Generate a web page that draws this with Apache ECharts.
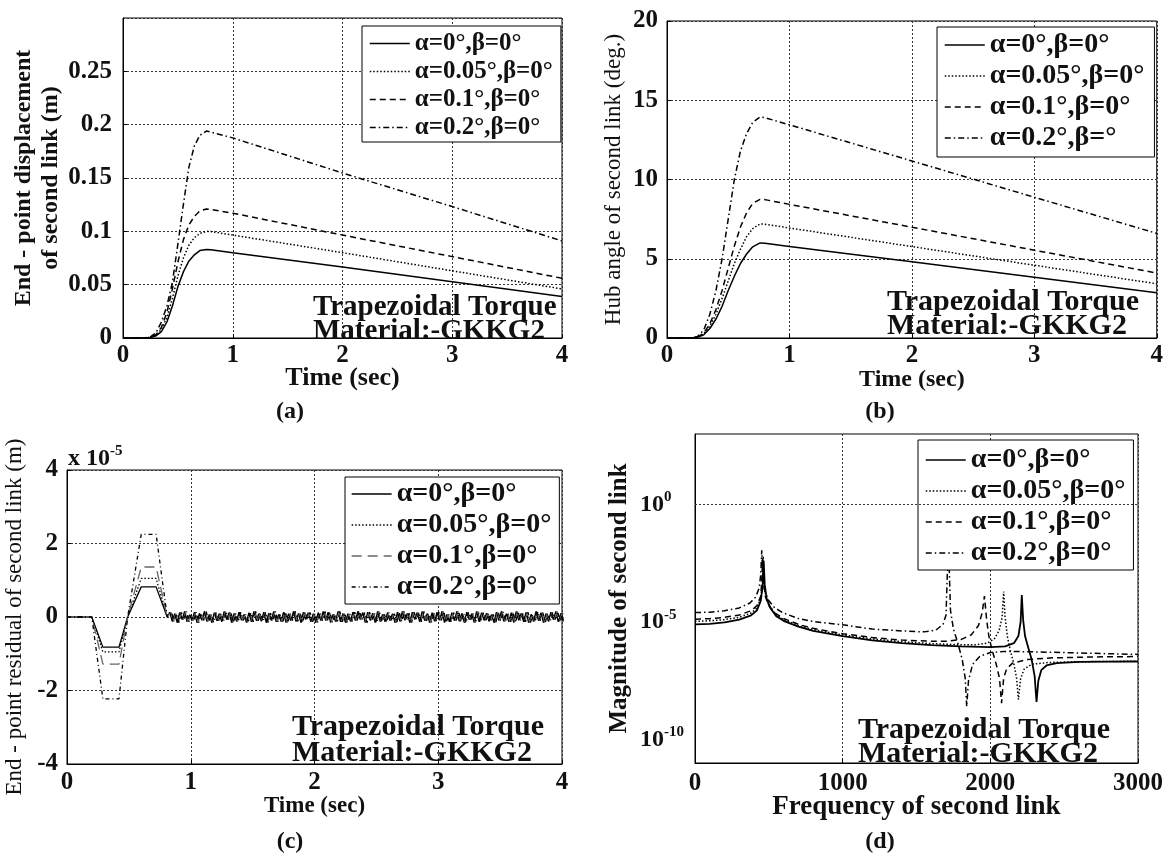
<!DOCTYPE html>
<html><head><meta charset="utf-8">
<script src="https://cdn.jsdelivr.net/npm/echarts@6/dist/echarts.min.js"></script>
<style>html,body{margin:0;padding:0;background:#fff}#c{width:1166px;height:854px}</style>
</head><body><div id="c"></div>
<script>
// ---------- DATA ----------
const names = ['α=0°,β=0°', 'α=0.05°,β=0°', 'α=0.1°,β=0°', 'α=0.2°,β=0°'];
const namesB = ['α=0°,β=0°', 'α=0.05°,β=0°', 'α=0.1°,β=0°', 'α=0.2°,β=°'];

// (a) end-point displacement (m)
const tA = [0,0.2,0.25,0.3,0.35,0.4,0.45,0.5,0.55,0.6,0.65,0.7,0.76,0.8,1,2,3,4];
const a0   = [0,0,0.0005,0.002,0.006,0.015,0.03,0.048,0.062,0.072,0.078,0.082,0.083,0.0828,0.080,0.0665,0.0528,0.039];
const a005 = [0,0,0.0006,0.0025,0.008,0.019,0.037,0.058,0.075,0.087,0.094,0.098,0.100,0.0998,0.0965,0.080,0.063,0.046];
const a01  = [0,0,0.0008,0.003,0.01,0.024,0.046,0.071,0.092,0.106,0.114,0.119,0.121,0.1205,0.117,0.0965,0.0763,0.056];
const a02  = [0,0,0.001,0.005,0.015,0.03,0.052,0.088,0.125,0.16,0.18,0.19,0.194,0.193,0.1876,0.1547,0.1232,0.091];

// (b) hub angle (deg)
const b0   = [0,0,0.05,0.2,0.6,1.2,2.0,3.0,3.9,4.7,5.3,5.75,6.0,5.98,5.78,4.81,3.83,2.85];
const b005 = [0,0,0.06,0.25,0.75,1.5,2.5,3.6,4.7,5.6,6.4,6.9,7.2,7.18,6.94,5.77,4.59,3.42];
const b01  = [0,0,0.07,0.3,0.9,1.8,3.0,4.4,5.8,7.0,7.9,8.5,8.75,8.73,8.43,6.99,5.54,4.1];
const b02  = [0,0,0.1,0.5,1.5,3.0,5.0,7.5,10.0,11.8,12.9,13.6,13.95,13.9,13.45,11.17,8.88,6.6];

// (c) end-point residual (x1e-5 m)
const tC   = [0,0.2,0.29,0.42,0.49,0.6,0.72,0.81];
const c0   = [0,0,-0.82,-0.82,0,0.82,0.82,0];
const c005 = [0,0,-0.95,-0.95,0,1.05,1.05,0];
const c01  = [0,0,-1.28,-1.28,0,1.36,1.36,0];
const c02  = [0,0,-2.23,-2.23,0,2.25,2.25,0];
const cTailStart = 0.83, cTailStep = 0.02;
const cTail = [
 0.13,-0.12,0.09,-0.15,0.12,-0.07,0.15,-0.13,0.06,-0.1,
 0.13,-0.15,0.1,-0.09,0.15,-0.12,0.07,-0.15,0.12,-0.1,
 0.09,-0.13,0.15,-0.07,0.12,-0.15,0.1,-0.12,0.13,-0.09,
 0.07,-0.15,0.12,-0.13,0.15,-0.1,0.09,-0.12,0.13,-0.15,
 0.1,-0.09,0.15,-0.13,0.07,-0.12,0.13,-0.15,0.09,-0.1,
 0.15,-0.12,0.1,-0.15,0.13,-0.07,0.12,-0.13,0.09,-0.15,
 0.12,-0.1,0.15,-0.09,0.13,-0.15,0.07,-0.12,0.15,-0.13,
 0.1,-0.15,0.09,-0.12,0.13,-0.1,0.15,-0.07,0.12,-0.15,
 0.13,-0.09,0.1,-0.15,0.15,-0.12,0.07,-0.13,0.12,-0.1,
 0.09,-0.15,0.13,-0.12,0.15,-0.09,0.1,-0.15,0.13,-0.07,
 0.12,-0.13,0.15,-0.1,0.09,-0.15,0.12,-0.12,0.13,-0.09,
 0.15,-0.15,0.07,-0.13,0.12,-0.1,0.15,-0.12,0.1,-0.15,
 0.13,-0.07,0.09,-0.15,0.15,-0.13,0.12,-0.09,0.1,-0.12,
 0.07,-0.15,0.13,-0.1,0.15,-0.12,0.09,-0.13,0.12,-0.15,
 0.15,-0.09,0.1,-0.13,0.13,-0.15,0.07,-0.12,0.15,-0.1,
 0.12,-0.15,0.09,-0.12,0.13,-0.07,0.15,-0.13,0.1,-0.12
];
const cTailPhase = [0, 0.005, 0.01, 0.015];   // sampling offsets of the four traces

// (d) magnitude spectrum: frequency and log10(magnitude)
const fD0 = [0,100,200,300,380,420,445,458,465,472,485,510,550,600,700,800,1000,1200,1400,1600,1800,2000,2100,2160,2190,2205,2213,2222,2235,2255,2280,2300,2313,2325,2345,2380,2450,2600,2800,3000];
const eD0 = [-5.1,-5.08,-5.02,-4.9,-4.72,-4.5,-4.1,-3.5,-2.4,-3.4,-4.0,-4.4,-4.75,-4.95,-5.2,-5.38,-5.6,-5.78,-5.9,-5.98,-6.04,-6.07,-6.04,-5.9,-5.6,-5.0,-3.85,-4.9,-5.6,-6.05,-6.6,-7.3,-8.4,-7.5,-7.05,-6.85,-6.75,-6.7,-6.69,-6.68];
const fD005 = [0,100,200,300,380,420,445,456,462,468,480,505,550,600,700,800,1000,1200,1400,1600,1800,1900,1980,2030,2060,2080,2090,2100,2115,2135,2160,2178,2190,2205,2230,2280,2400,2600,2800,3000];
const eD005 = [-4.97,-4.95,-4.9,-4.8,-4.62,-4.4,-4.0,-3.4,-2.2,-3.3,-3.95,-4.35,-4.7,-4.9,-5.15,-5.32,-5.55,-5.72,-5.84,-5.92,-5.97,-5.97,-5.9,-5.7,-5.35,-4.8,-3.7,-4.8,-5.6,-6.2,-6.8,-7.4,-8.3,-7.4,-7.0,-6.8,-6.72,-6.69,-6.68,-6.67];
const fD01 = [0,100,200,300,380,420,445,452,458,464,476,500,550,600,700,800,1000,1200,1400,1600,1700,1800,1870,1920,1945,1960,1975,1990,2010,2040,2062,2076,2090,2110,2150,2250,2400,2600,2800,3000];
const eD01 = [-4.88,-4.86,-4.8,-4.7,-4.52,-4.3,-3.9,-3.3,-2.3,-3.2,-3.9,-4.3,-4.65,-4.85,-5.1,-5.27,-5.5,-5.66,-5.77,-5.82,-5.82,-5.75,-5.55,-5.15,-4.6,-3.9,-4.9,-5.6,-6.15,-6.8,-7.4,-8.45,-7.4,-7.0,-6.75,-6.6,-6.53,-6.5,-6.48,-6.47];
const fD02 = [0,100,200,300,370,410,435,445,452,459,470,495,540,600,700,800,1000,1200,1400,1550,1630,1680,1700,1716,1730,1750,1780,1810,1830,1840,1852,1880,1930,2000,2100,2300,2500,2800,3000];
const eD02 = [-4.6,-4.58,-4.52,-4.4,-4.2,-3.95,-3.55,-3.0,-1.95,-3.0,-3.6,-4.05,-4.4,-4.62,-4.85,-4.98,-5.12,-5.3,-5.38,-5.42,-5.35,-5.1,-4.7,-1.5,-4.5,-5.3,-5.9,-6.6,-7.4,-8.6,-7.5,-6.8,-6.45,-6.3,-6.25,-6.27,-6.3,-6.35,-6.38];

const yLabelExpD = [0, -5, -10];

// ---------- STYLE ----------
const FONT = "'Liberation Serif','Times New Roman',serif";
const TXT = '#111';
const dashes = ['solid', [1.5, 2], [6, 4], [6, 3, 1.5, 3]];
const dashesC = ['solid', [1.5, 2], [10, 6], [4, 3, 1, 3]];
const colorsC = ['#000', '#000', '#666', '#000'];

const zip = (xs, ys) => xs.map((x, i) => [x, ys[i]]);

function xAx(gi, max, interval, name, gap, fs, margin) {
  return {
    type: 'value', gridIndex: gi, min: 0, max: max, interval: interval,
    axisLine: {show: true, onZero: false, lineStyle: {color: '#000', width: 1}},
    axisTick: {show: true, inside: true, length: 4, lineStyle: {color: '#000'}},
    splitLine: {show: true, lineStyle: {type: [2, 2], color: '#333', width: 1}},
    axisLabel: {fontFamily: FONT, fontWeight: 'bold', fontSize: 25, color: TXT, margin: margin, formatter: v => String(v)},
    name: name, nameLocation: 'middle', nameGap: gap, nameMoveOverlap: false,
    nameTextStyle: {fontFamily: FONT, fontWeight: 'bold', fontSize: fs, color: TXT}
  };
}
function yAx(gi, min, max, interval, name, gap, fs, fw, extraLabel) {
  return {
    type: 'value', gridIndex: gi, min: min, max: max, interval: interval,
    axisLine: {show: true, onZero: false, lineStyle: {color: '#000', width: 1}},
    axisTick: {show: true, inside: true, length: 4, lineStyle: {color: '#000'}},
    splitLine: {show: true, lineStyle: {type: [2, 2], color: '#333', width: 1}},
    axisLabel: Object.assign({fontFamily: FONT, fontWeight: 'bold', fontSize: 25, color: TXT, margin: 9}, extraLabel || {}),
    name: name, nameLocation: 'middle', nameRotate: 90, nameGap: gap,
    nameTextStyle: {fontFamily: FONT, fontWeight: fw, fontSize: fs, color: TXT, lineHeight: 27}
  };
}

function lineSeries(name, gi, data, dash, color, width) {
  return {
    type: 'line', name: name, xAxisIndex: gi, yAxisIndex: gi, data: data,
    symbol: 'none', showSymbol: false, smooth: false, silent: true,
    itemStyle: {color: color || '#000'},
    lineStyle: {color: color || '#000', width: width || 1.5, type: dash}
  };
}

function legend(left, top, nms, styles, colors, w, fs, gap, pad) {
  return {
    orient: 'vertical', left: left, top: top,
    padding: pad, itemWidth: 40, itemHeight: 14, itemGap: gap,
    backgroundColor: '#fff', borderColor: '#000', borderWidth: 1,
    selectedMode: false,
    textStyle: {fontFamily: FONT, fontWeight: 'bold', fontSize: fs, color: TXT},
    data: nms.map((n, i) => ({
      name: n,
      itemStyle: {opacity: 0},
      lineStyle: {type: styles[i], color: colors ? colors[i] : '#000', width: w, opacity: 1}
    }))
  };
}

const series = [];
[a0, a005, a01, a02].forEach((v, i) => series.push(lineSeries(names[i], 0, zip(tA, v), dashes[i])));
[b0, b005, b01, b02].forEach((v, i) => series.push(lineSeries(namesB[i], 1, zip(tA, v), dashes[i])));
[c0, c005, c01, c02].forEach((v, i) => {
  const tail = cTail.map((y, k) => [cTailStart + cTailPhase[i] + k * cTailStep, y]);
  series.push(lineSeries(names[i], 2, zip(tC, v).concat(tail), dashesC[i], colorsC[i], 1.3));
});
[[fD0, eD0], [fD005, eD005], [fD01, eD01], [fD02, eD02]].forEach((p, i) => {
  series.push(lineSeries(names[i], 3, zip(p[0], p[1].map(e => Math.pow(10, e))), dashes[i], '#000', i === 0 ? 1.8 : 1.5));
});
// gridlines at the labelled decades of the log axis (d)
series[series.length - 1].markLine = {
  silent: true, symbol: 'none', label: {show: false}, animation: false,
  lineStyle: {type: [2, 2], color: '#333', width: 1},
  data: yLabelExpD.map(e => ({yAxis: Math.pow(10, e)}))
};

const logLabel = v => {
  const e = Math.round(Math.log10(v));
  return yLabelExpD.indexOf(e) >= 0 ? '10{sup|' + e + '}' : '';
};

const annot = 'Trapezoidal Torque\nMaterial:-GKKG2';

const option = {
  animation: false,
  backgroundColor: '#fff',
  grid: [
    {left: 123, top: 18, width: 439, height: 320, show: true, borderColor: '#000', borderWidth: 1},
    {left: 667, top: 21, width: 491, height: 317, show: true, borderColor: '#000', borderWidth: 1},
    {left: 67, top: 470, width: 495, height: 294, show: true, borderColor: '#000', borderWidth: 1},
    {left: 695, top: 434, width: 443, height: 329, show: true, borderColor: '#000', borderWidth: 1}
  ],
  xAxis: [
    xAx(0, 4, 1, 'Time (sec)', 27, 26, 5),
    xAx(1, 4, 1, 'Time (sec)', 30, 24, 5),
    xAx(2, 4, 1, 'Time (sec)', 31, 23, 6),
    xAx(3, 3000, 1000, 'Frequency of second link', 31, 27, 8)
  ],
  yAxis: [
    yAx(0, 0, 0.3, 0.05, 'End - point displacement\nof second link (m)', 56, 24, 'bold', {showMaxLabel: false, margin: 11}),
    yAx(1, 0, 20, 5, 'Hub angle of second link (deg.)', 40, 23, 'normal'),
    yAx(2, -4, 4, 2, 'End - point residual of second link (m)', 39, 23, 'normal'),
    {
      type: 'log', logBase: 10, gridIndex: 3, min: 1e-11, max: 1e3, interval: 1,
      axisLine: {show: true, onZero: false, lineStyle: {color: '#000'}},
      axisTick: {show: false},
      splitLine: {show: false},
      axisLabel: {
        fontFamily: FONT, fontWeight: 'bold', fontSize: 24, color: TXT, margin: 55, align: 'left',
        formatter: logLabel,
        rich: {sup: {fontFamily: FONT, fontWeight: 'bold', fontSize: 15, color: TXT, verticalAlign: 'top', padding: [0, 0, 14, 0]}}
      },
      name: 'Magnitude of second link', nameLocation: 'middle', nameRotate: 90, nameGap: 63,
      nameTextStyle: {fontFamily: FONT, fontWeight: 'bold', fontSize: 25, color: TXT}
    }
  ],
  legend: [
    legend(362, 26, names, dashes, null, 1.5, 25, 3, [5, 8, 2, 7]),
    legend(937, 27, namesB, dashes, null, 1.5, 28, 3, [4, 10, 5, 7]),
    legend(345, 477, names, dashesC, colorsC, 1.3, 28, 3, [3, 8, 3, 6]),
    legend(918, 440, names, dashes, null, 1.5, 28, 3, [6, 8, 3, 7])
  ],
  graphic: [
    {type: 'text', x: 313, y: 296, z: 100, style: {text: annot, font: 'bold 29px ' + FONT, fill: TXT, lineHeight: 24}},
    {type: 'text', x: 887, y: 290, z: 100, style: {text: annot, font: 'bold 30px ' + FONT, fill: TXT, lineHeight: 24}},
    {type: 'text', x: 292, y: 714, z: 100, style: {text: annot, font: 'bold 30px ' + FONT, fill: TXT, lineHeight: 26}},
    {type: 'text', x: 858, y: 718, z: 100, style: {text: annot, font: 'bold 30px ' + FONT, fill: TXT, lineHeight: 24}},
    {type: 'text', x: 68, y: 444, z: 100, style: {text: 'x 10{s|-5}', font: 'bold 24px ' + FONT, fill: TXT, rich: {s: {font: 'bold 15px ' + FONT, fill: TXT, verticalAlign: 'top', padding: [0, 0, 14, 0]}}}},
    {type: 'text', x: 290, y: 412, style: {text: '(a)', font: 'bold 24px ' + FONT, fill: TXT, textAlign: 'center', textVerticalAlign: 'middle'}},
    {type: 'text', x: 880, y: 412, style: {text: '(b)', font: 'bold 24px ' + FONT, fill: TXT, textAlign: 'center', textVerticalAlign: 'middle'}},
    {type: 'text', x: 290, y: 842, style: {text: '(c)', font: 'bold 24px ' + FONT, fill: TXT, textAlign: 'center', textVerticalAlign: 'middle'}},
    {type: 'text', x: 880, y: 842, style: {text: '(d)', font: 'bold 24px ' + FONT, fill: TXT, textAlign: 'center', textVerticalAlign: 'middle'}}
  ],
  series: series
};

const chart = echarts.init(document.getElementById('c'), null, {renderer: 'canvas'});
chart.setOption(option);
</script>
</body></html>
